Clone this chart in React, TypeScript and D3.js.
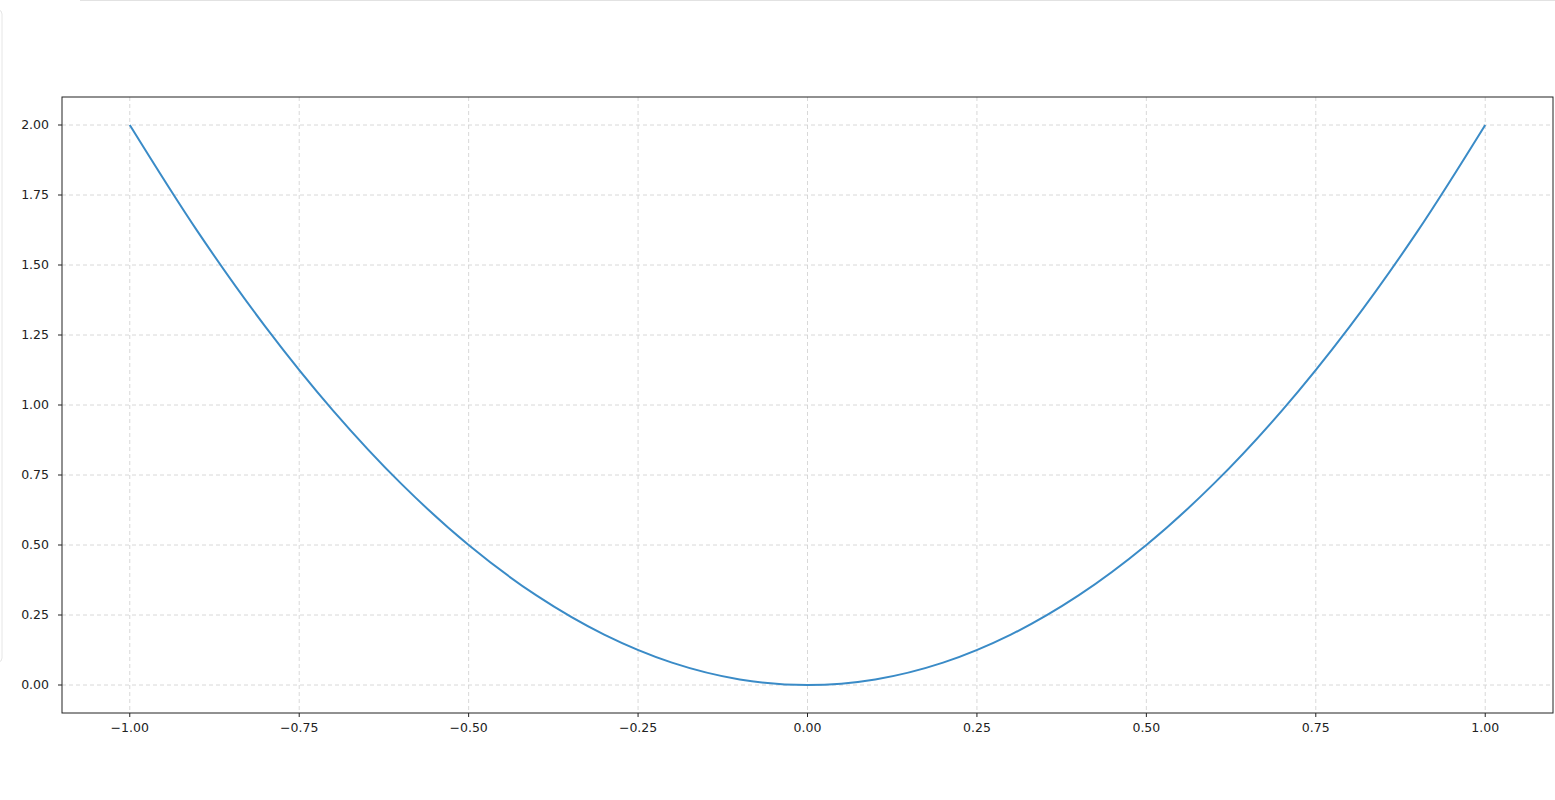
import React from 'react';
import * as d3 from 'd3';

// points
const xValues = [-1.0, -0.9, -0.8, -0.7, -0.6, -0.5, -0.4, -0.3, -0.2, -0.1, 0.0, 0.1, 0.2, 0.3, 0.4, 0.5, 0.6, 0.7, 0.8, 0.9, 1.0];
const yValues = [2.0, 1.62, 1.28, 0.98, 0.72, 0.5, 0.32, 0.18, 0.08, 0.02, 0.0, 0.02, 0.08, 0.18, 0.32, 0.5, 0.72, 0.98, 1.28, 1.62, 2.0];

const xTicks = [-1.0, -0.75, -0.5, -0.25, 0.0, 0.25, 0.5, 0.75, 1.0];
const yTicks = [0.0, 0.25, 0.5, 0.75, 1.0, 1.25, 1.5, 1.75, 2.0];

const App: React.FC = () => {
  const margin = { top: 97, right: 2, bottom: 87, left: 62 };
  const W = 1555;
  const H = 800;
  const width = W - margin.left - margin.right;
  const height = H - margin.top - margin.bottom;

  const x = d3.scaleLinear().domain([-1.1, 1.1]).range([0, width]);
  const y = d3.scaleLinear().domain([-0.1, 2.1]).range([height, 0]);

  const pts: [number, number][] = xValues.map((v, i) => [v, yValues[i]]);
  const line = d3
    .line<[number, number]>()
    .x((d) => x(d[0]))
    .y((d) => y(d[1]))
    .curve(d3.curveCatmullRom.alpha(0.5));

  const font = '"DejaVu Sans", sans-serif';

  return (
    <svg width={W} height={H} style={{ position: 'absolute', left: 0, top: 0, background: '#fff' }}>
      {/* page chrome bits */}
      <line x1={80} x2={W} y1={0.5} y2={0.5} stroke="#e2e2e2" />
      <rect x={-8} y={10} width={10} height={652} rx={4} fill="none" stroke="#e6e6e6" />

      <g transform={`translate(${margin.left},${margin.top})`}>
        {/* grid */}
        {xTicks.map((t) => (
          <line key={'gx' + t} x1={x(t)} x2={x(t)} y1={0} y2={height} stroke="#d4d4d4" strokeDasharray="4,3" strokeWidth={0.9} />
        ))}
        {yTicks.map((t) => (
          <line key={'gy' + t} x1={0} x2={width} y1={y(t)} y2={y(t)} stroke="#d4d4d4" strokeDasharray="4,3" strokeWidth={0.9} />
        ))}

        <path d={line(pts) ?? ''} fill="none" stroke="#3a8bc7" strokeWidth={2} />

        {/* frame */}
        <rect x={0} y={0} width={width} height={height} fill="none" stroke="#222" strokeWidth={1} />

        {/* x ticks */}
        {xTicks.map((t) => (
          <g key={'tx' + t} transform={`translate(${x(t)},${height})`}>
            <line y1={0} y2={4} stroke="#222" />
            <text y={19} textAnchor="middle" fontFamily={font} fontSize={12.5} fill="#222">
              {d3.format('.2f')(t).replace('-', '\u2212')}
            </text>
          </g>
        ))}
        {/* y ticks */}
        {yTicks.map((t) => (
          <g key={'ty' + t} transform={`translate(0,${y(t)})`}>
            <line x1={-4} x2={0} stroke="#222" />
            <text x={-13} dy="0.35em" textAnchor="end" fontFamily={font} fontSize={12.5} fill="#222">
              {d3.format('.2f')(t)}
            </text>
          </g>
        ))}
      </g>
    </svg>
  );
};

export default App;
